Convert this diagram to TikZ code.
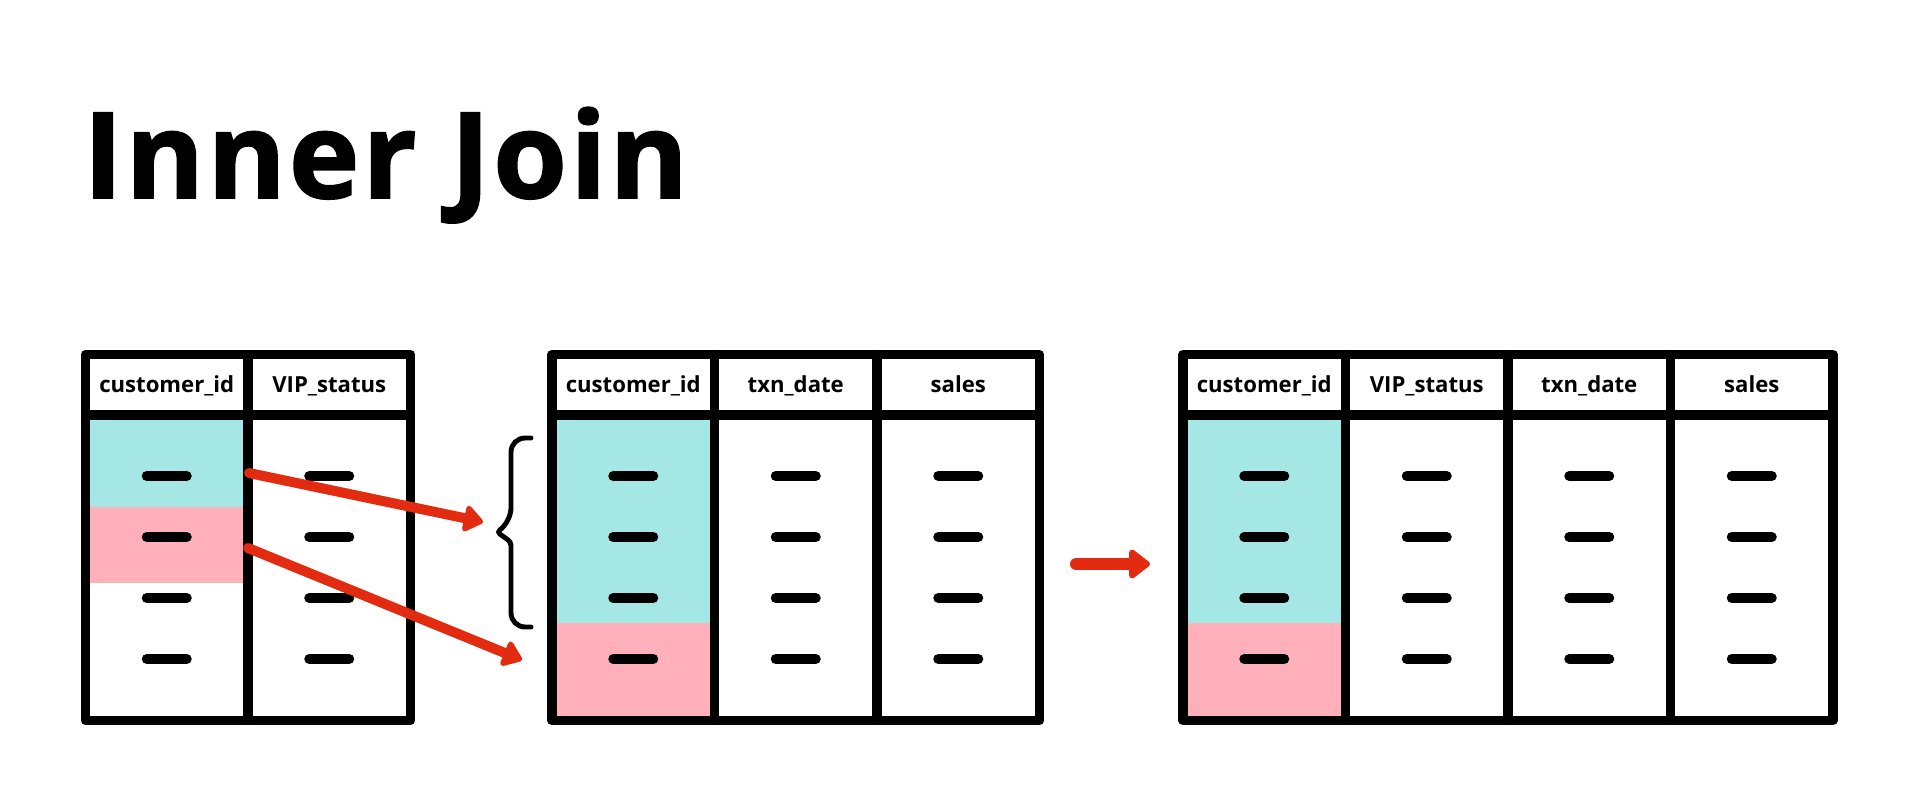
\documentclass[tikz,border=0pt]{standalone}
\usepackage{fontspec}
\setmainfont{Open Sans}
\newfontfamily\titlefont{Open Sans}[BoldFeatures={FakeBold=1.5,LetterSpace=2.5}]
\usepackage{tikz}
\usetikzlibrary{positioning,arrows.meta}
\definecolor{m_cyan}{HTML}{A4E7E4}
\definecolor{m_pink}{HTML}{FFB0BB}
\definecolor{m_red}{HTML}{E22B10}

\begin{document}
\begin{tikzpicture}[
        x=0.02cm, y=-0.02cm,
        grid/.style={line width=5.3pt, line cap=round, line join=round},
        header/.style={font=\bfseries\fontsize{12.6}{15}\selectfont, inner sep=0pt, anchor=base},
        bar/.style={line width=5.7pt, line cap=round},
        brace/.style={line width=2.8pt, line cap=round},
        join arrow/.style={m_red, line width=5.7pt, line cap=round,
            -{Triangle[length=12pt, width=17pt, round]}},
        result arrow/.style={m_red, line width=6.8pt, line cap=round,
            -{Triangle[length=13pt, width=19pt, round]}},
        title/.style={font=\titlefont\bfseries\fontsize{68}{80}\selectfont, inner sep=0pt, anchor=base west}
    ]
    \useasboundingbox (0,0) rectangle (1920,800);

    \node[title] (title) at (83,198) {Inner Join};

    % matched keys
    \fill[m_cyan] (85.5,415) rectangle (248,507);
    \fill[m_pink] (85.5,507) rectangle (248,583);
    \fill[m_cyan] (552,415) rectangle (714.5,623);
    \fill[m_pink] (552,623) rectangle (714.5,720.5);
    \fill[m_cyan] (1183,415) rectangle (1345.5,623);
    \fill[m_pink] (1183,623) rectangle (1345.5,720.5);

    % frames, dividers and rows
    \foreach \tx/\n in {85.5/2, 552/3, 1183/4} {
        \draw[grid] (\tx,354.5) rectangle ++(\n*162.5,366);
        \draw[grid] (\tx,415) -- ++(\n*162.5,0);
        \foreach \c in {2,...,\n}
            \draw[grid] ({\tx+(\c-1)*162.5},354.5) -- ++(0,366);
        \foreach \c in {1,...,\n}
            \foreach \y in {476,537,598,659}
                \draw[bar] ({\tx+(\c-0.5)*162.5-20},\y) -- ++(40,0);
    }

    % headers
    \node[header] (custA) at (166.75,393) {customer\_id};
    \node[header] (vipA)  at (329.25,393) {VIP\_status};
    \node[header] (custB) at (633.25,393) {customer\_id};
    \node[header] (dateB) at (795.75,393) {txn\_date};
    \node[header] (salesB) at (958.25,393) {sales};
    \node[header] (custC) at (1264.25,393) {customer\_id};
    \node[header] (vipC)  at (1426.75,393) {VIP\_status};
    \node[header] (dateC) at (1589.25,393) {txn\_date};
    \node[header] (salesC) at (1751.75,393) {sales};

    % brace
    \draw[brace] (531,438) [rounded corners=8pt] -- (511,438) -- (511,522)
        [rounded corners=2pt] -- (497,532) -- (511,542)
        [rounded corners=8pt] -- (511,627) -- (531,627);

    \coordinate (cyanout) at (249,473);
    \coordinate (bracetip) at (483,522);
    \coordinate (pinkout) at (248,548);
    \coordinate (pinkin) at (522,660);
    \coordinate (resultout) at (1076,564);
    \coordinate (resultin) at (1150,564);

    \draw[join arrow] (cyanout) -- (bracetip);
    \draw[join arrow] (pinkout) -- (pinkin);
    \draw[result arrow] (resultout) -- (resultin);
\end{tikzpicture}
\end{document}
